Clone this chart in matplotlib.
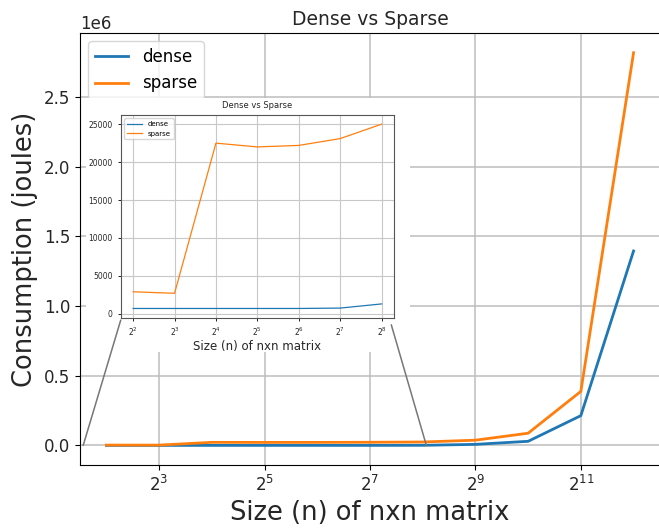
import matplotlib
matplotlib.use('Agg')
import matplotlib.pyplot as plt
from matplotlib.patches import Rectangle, ConnectionPatch

sizes = [4, 8, 16, 32, 64, 128, 256, 512, 1024, 2048, 4096]
dense = [700, 700, 700, 700, 700, 750, 1300, 8000, 30000, 214000, 1395000]
sparse = [2900, 2700, 22500, 22000, 22200, 23100, 25000, 38000, 88000, 388000, 2817000]

main_ticks = [8, 32, 128, 512, 2048]
inset_n = 7  # first seven sizes go in the zoomed view

fig = plt.figure(figsize=(6.59, 5.30), dpi=100)

# main chart
ax = fig.add_axes([0.1214, 0.1226, 0.88, 0.815])
ax.set_zorder(0)
ax.plot(sizes, dense, color='#1f77b4', lw=2, label='dense')
ax.plot(sizes, sparse, color='#ff7f0e', lw=2, label='sparse')
ax.set_xscale('log', base=2)
ax.set_xticks(main_ticks)
ax.grid(True, color='#bdbdbd', lw=1.1)
ax.tick_params(labelsize=12, labelcolor='#262626')
ax.yaxis.get_offset_text().set_fontsize(12)
ax.set_title('Dense vs Sparse', fontsize=13.5, color='#262626')
ax.set_xlabel('Size (n) of nxn matrix', fontsize=18.5, color='#262626')
ax.set_ylabel('Consumption (joules)', fontsize=18.5, color='#262626')
leg = ax.legend(loc='upper left', fontsize=12)

# white card behind the zoomed view
card = Rectangle((0.1305, 0.3358), 0.4917, 0.479, transform=fig.transFigure,
                 facecolor='white', edgecolor='none', zorder=1)
fig.add_artist(card)

# zoomed view of the small sizes
ins = fig.add_axes([0.1832, 0.4006, 0.4147, 0.3825])
ins.set_zorder(2)
ins.plot(sizes[:inset_n], dense[:inset_n], color='#1f77b4', lw=0.9, label='dense')
ins.plot(sizes[:inset_n], sparse[:inset_n], color='#ff7f0e', lw=0.9, label='sparse')
ins.set_xscale('log', base=2)
ins.set_xticks(sizes[:inset_n])
ins.grid(True, color='#c8c8c8', lw=0.8)
ins.tick_params(labelsize=5.5, length=2.5, width=0.6, labelcolor='#262626')
for s in ins.spines.values():
    s.set_color('#555555')
    s.set_linewidth(0.8)
ins.set_title('Dense vs Sparse', fontsize=6, color='#262626', pad=5)
ins.set_xlabel('Size (n) of nxn matrix', fontsize=8.5, color='#262626', labelpad=1)
ins.legend(loc='upper left', fontsize=5, handlelength=2.2)

# lines joining the zoomed view to the main axis
for frac, xval in [((0.0, -0.012), 2 ** 1.56), ((0.99, -0.035), 2 ** 8.07)]:
    con = ConnectionPatch(xyA=frac, coordsA=ins.transAxes, xyB=(xval, 0),
                          coordsB=ax.transData, color='#777777', lw=1.1)
    con.set_zorder(3)
    fig.add_artist(con)

fig.savefig('out.png', dpi=100)
